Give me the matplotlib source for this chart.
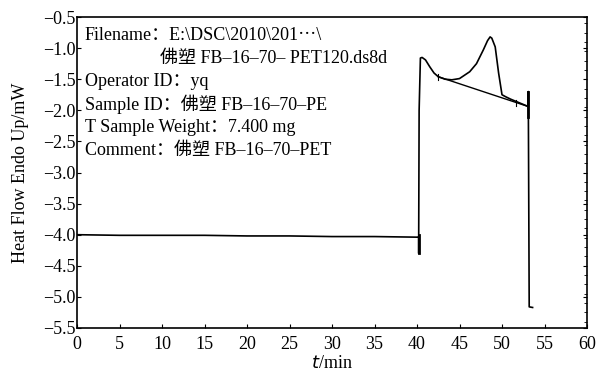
import matplotlib.pyplot as plt
from matplotlib.ticker import MultipleLocator

# DSC curve
t = [0, 5, 10, 15, 20, 25, 30, 35, 40.2, 40.2, 40.2, 40.25, 40.4, 40.6, 41.0, 41.5, 42.0, 42.5,
     43.3, 44.1, 45.0, 46.2, 47.0, 47.8, 48.3, 48.6, 48.8, 49.2, 49.6, 50.0, 50.4, 51.0, 51.7, 53.1,
     53.1, 53.1, 53.2, 53.6]
heat = [-4.00, -4.01, -4.01, -4.01, -4.02, -4.02, -4.03, -4.03, -4.04, -4.30, -4.04, -2.0, -1.16,
        -1.15, -1.19, -1.30, -1.40, -1.46, -1.50, -1.51, -1.49, -1.38, -1.25, -1.03, -0.88, -0.82,
        -0.84, -0.98, -1.40, -1.75, -1.78, -1.82, -1.86, -1.94, -1.70, -1.94, -5.16, -5.17]

# integration baseline
base_t = [42.5, 53.1]
base_h = [-1.46, -1.94]
mark_t = [42.5, 51.7]

info = ["Filename：E:\\DSC\\2010\\201\u22ef\\",
        "佛塑 FB\u201216\u201270\u2012 PET120.ds8d",
        "Operator ID：yq",
        "Sample ID：佛塑 FB\u201216\u201270\u2012PE",
        "T Sample Weight：7.400 mg",
        "Comment：佛塑 FB\u201216\u201270\u2012PET"]
info_x = [0.015, 0.163, 0.015, 0.015, 0.015, 0.015]

plt.rcParams['font.family'] = ['Liberation Serif', 'Noto Sans CJK SC', 'DejaVu Serif']
plt.rcParams['axes.unicode_minus'] = True

fig = plt.figure(figsize=(5.97, 3.73), dpi=100)
ax = fig.add_axes([77/597, 1-328/373, 510/597, 311/373])

ax.plot(t, heat, color='black', lw=1.2)
ax.plot(base_t, base_h, color='black', lw=1.0)
for mt in mark_t:
    mh = base_h[0] + (mt - base_t[0]) * (base_h[1] - base_h[0]) / (base_t[1] - base_t[0])
    ax.plot([mt, mt], [mh - 0.05, mh + 0.05], color='black', lw=0.8)
# thick vertical steps
ax.plot([40.2, 40.2], [-4.30, -4.0], color='black', lw=2)
ax.plot([53.1, 53.1], [-1.70, -2.1], color='black', lw=2)

ax.set_xlim(0, 60)
ax.set_ylim(-5.5, -0.5)
ax.xaxis.set_major_locator(MultipleLocator(5))
ax.yaxis.set_major_locator(MultipleLocator(0.5))
ax.yaxis.set_minor_locator(MultipleLocator(0.15))
ax.yaxis.set_major_formatter(plt.FuncFormatter(lambda v, p: ('%.1f' % v).replace('-', '\u2212')))
ax.tick_params(axis='both', direction='in', length=3, width=0.8, labelsize=13, pad=1)
ax.tick_params(axis='x', pad=6)
ax.tick_params(axis='y', which='minor', left=False, right=True, direction='in', length=2)
ax.tick_params(axis='y', right=True)
for s in ax.spines.values():
    s.set_linewidth(1.2)

ax.set_ylabel('Heat Flow Endo Up/mW', fontsize=13, labelpad=10)
ax.set_xlabel('$\\it{t}$/min', fontsize=13, labelpad=1)

for i, line in enumerate(info):
    ax.text(info_x[i], 0.94 - i * 0.0735, line, transform=ax.transAxes, fontsize=13,
            va='center', ha='left')

fig.savefig('out.png', dpi=100)
